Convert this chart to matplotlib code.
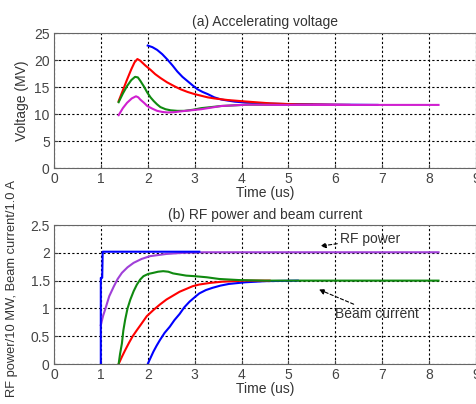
import matplotlib
matplotlib.use("Agg")
import matplotlib.pyplot as plt

plt.rcParams['font.family'] = ['Liberation Sans', 'DejaVu Sans']

# (a) accelerating voltage, MV vs time (us)
va_blue_t = [2.0, 2.1, 2.2, 2.31, 2.42, 2.53, 2.63, 2.74, 2.85, 2.96, 3.06, 3.17, 3.28, 3.42, 3.57, 3.71,
             3.86, 4.14, 4.5, 5.0, 6.0, 6.9]
va_blue_v = [22.7, 22.4, 21.9, 21.1, 20.1, 19.0, 17.9, 16.9, 16.1, 15.3, 14.6, 14.1, 13.7, 13.1, 12.7, 12.5,
             12.3, 12.1, 11.95, 11.85, 11.75, 11.7]
va_red_t = [1.38, 1.47, 1.56, 1.65, 1.72, 1.78, 1.84, 1.95, 2.06, 2.16, 2.27, 2.41, 2.56, 2.7, 2.85, 3.0,
            3.14, 3.28, 3.42, 3.71, 4.14, 4.6, 5.2, 6.3]
va_red_v = [12.4, 14.4, 16.4, 18.3, 19.6, 20.2, 19.9, 19.0, 18.2, 17.4, 16.7, 15.9, 15.2, 14.6, 14.1, 13.7,
            13.4, 13.1, 12.9, 12.6, 12.3, 12.0, 11.8, 11.7]
va_green_t = [1.38, 1.47, 1.56, 1.65, 1.73, 1.79, 1.84, 1.92, 1.99, 2.06, 2.13, 2.2, 2.27, 2.38, 2.49, 2.63,
              2.78, 2.96, 3.14, 3.57, 4.14, 4.8, 5.5]
va_green_v = [12.2, 13.8, 15.2, 16.3, 16.9, 16.8, 16.2, 15.1, 14.0, 13.1, 12.4, 11.8, 11.3, 10.9, 10.7, 10.6,
              10.6, 10.8, 11.1, 11.5, 11.75, 11.7, 11.7]
va_mag_t = [1.38, 1.47, 1.56, 1.66, 1.75, 1.8, 1.84, 1.92, 1.99, 2.1, 2.2, 2.31, 2.42, 2.56, 2.7, 2.92,
            3.14, 3.57, 4.14, 4.8, 8.2]
va_mag_v = [9.8, 11.1, 12.1, 12.9, 13.3, 13.1, 12.7, 12.1, 11.5, 11.0, 10.6, 10.4, 10.3, 10.35, 10.5, 10.7,
            10.9, 11.5, 11.75, 11.7, 11.7]

# (b) RF power / beam current
rf_blue_t = [1.0, 1.0, 1.03, 1.04, 3.1]
rf_blue_v = [0.0, 1.55, 1.55, 2.02, 2.02]
rf_purple_t = [1.0, 1.05, 1.1, 1.18, 1.28, 1.36, 1.45, 1.57, 1.7, 1.87, 2.05, 2.4, 2.75, 3.2, 8.2]
rf_purple_v = [0.7, 0.87, 1.0, 1.22, 1.4, 1.53, 1.64, 1.74, 1.82, 1.89, 1.94, 1.98, 2.0, 2.01, 2.01]
ib_green_t = [1.38, 1.41, 1.45, 1.48, 1.52, 1.57, 1.63, 1.7, 1.77, 1.84, 1.91, 2.01, 2.12, 2.22, 2.33, 2.44,
              2.54, 2.68, 2.82, 3.0, 3.26, 3.52, 3.94, 4.5, 8.2]
ib_green_v = [0.0, 0.18, 0.37, 0.6, 0.8, 1.0, 1.16, 1.31, 1.43, 1.52, 1.58, 1.62, 1.64, 1.66, 1.67, 1.66,
              1.63, 1.61, 1.59, 1.58, 1.56, 1.53, 1.51, 1.5, 1.5]
ib_red_t = [1.38, 1.45, 1.52, 1.6, 1.68, 1.77, 1.88, 1.98, 2.12, 2.26, 2.4, 2.54, 2.68, 2.82, 2.96, 3.1, 3.34,
            3.58, 4.08, 4.6]
ib_red_v = [0.0, 0.13, 0.25, 0.38, 0.5, 0.61, 0.74, 0.86, 0.97, 1.07, 1.16, 1.23, 1.3, 1.35, 1.4, 1.43, 1.46,
            1.48, 1.5, 1.5]
ib_blue_t = [2.0, 2.06, 2.12, 2.19, 2.26, 2.36, 2.47, 2.57, 2.68, 2.78, 2.89, 3.0, 3.1, 3.24, 3.38, 3.55,
             3.73, 4.08, 4.5, 5.2]
ib_blue_v = [0.0, 0.11, 0.22, 0.33, 0.43, 0.56, 0.67, 0.79, 0.9, 1.02, 1.12, 1.2, 1.27, 1.33, 1.37, 1.41,
             1.44, 1.47, 1.49, 1.5]

xticks = [0, 1, 2, 3, 4, 5, 6, 7, 8, 9]
yticks_a = [0, 5, 10, 15, 20, 25]
yticks_b = [0, 0.5, 1, 1.5, 2, 2.5]
yticklabels_b = ['0', '0.5', '1', '1.5', '2', '2.5']

FS = 10
TXT = '#333333'


def style_axes(ax):
    ax.grid(True, color='k', linestyle=(0, (2, 2)), linewidth=0.8)
    ax.set_axisbelow(True)
    ax.tick_params(direction='in', labelsize=FS, colors='#444444', length=3, pad=3)
    for s in ax.spines.values():
        s.set_color('#666666')
        s.set_linewidth(0.8)


fig = plt.figure(figsize=(4.77, 4.04), dpi=100)

ax1 = fig.add_axes([0.113, 0.584, 0.885, 0.334])
ax1.plot(va_blue_t, va_blue_v, color='#0000ff', lw=1.5)
ax1.plot(va_red_t, va_red_v, color='#ff0000', lw=1.5)
ax1.plot(va_green_t, va_green_v, color='#108a10', lw=1.5)
ax1.plot(va_mag_t, va_mag_v, color='#d020d0', lw=1.5)
ax1.set_xlim(0, 9)
ax1.set_ylim(0, 25)
ax1.set_xticks(xticks)
ax1.set_yticks(yticks_a)
style_axes(ax1)
ax1.set_title('(a) Accelerating voltage', fontsize=FS, pad=5, color=TXT)
ax1.set_xlabel('Time (us)', fontsize=FS, labelpad=0, color=TXT)
ax1.set_ylabel('Voltage (MV)', fontsize=FS, labelpad=4, color=TXT)

ax2 = fig.add_axes([0.113, 0.099, 0.885, 0.344])
ax2.plot(rf_purple_t, rf_purple_v, color='#a040d8', lw=1.5)
ax2.plot(rf_blue_t, rf_blue_v, color='#0000ff', lw=1.5)
ax2.plot(ib_blue_t, ib_blue_v, color='#0000ff', lw=1.5)
ax2.plot(ib_red_t, ib_red_v, color='#ff0000', lw=1.5)
ax2.plot(ib_green_t, ib_green_v, color='#108a10', lw=1.5)
ax2.set_xlim(0, 9)
ax2.set_ylim(0, 2.5)
ax2.set_xticks(xticks)
ax2.set_yticks(yticks_b)
ax2.set_yticklabels(yticklabels_b)
style_axes(ax2)
ax2.set_title('(b) RF power and beam current', fontsize=FS, pad=4, color=TXT)
ax2.set_xlabel('Time (us)', fontsize=FS, labelpad=0, color=TXT)
ax2.set_ylabel('RF power/10 MW, Beam current/1.0 A', fontsize=9.3, color=TXT)
ax2.yaxis.set_label_coords(-0.085, 0.54)

arrow = dict(arrowstyle='-|>', linestyle=(0, (3, 2)), lw=0.8, color='k',
             mutation_scale=8, shrinkA=0, shrinkB=0)
ax2.annotate('RF power', xy=(5.68, 2.12), xytext=(6.1, 2.25), fontsize=FS, color=TXT,
             va='center', ha='left', arrowprops=arrow)
ax2.annotate('Beam current', xy=(5.65, 1.34), xytext=(5.99, 0.9), fontsize=FS, color=TXT,
             va='center', ha='left', arrowprops=arrow)

fig.savefig('out.png', dpi=100)
